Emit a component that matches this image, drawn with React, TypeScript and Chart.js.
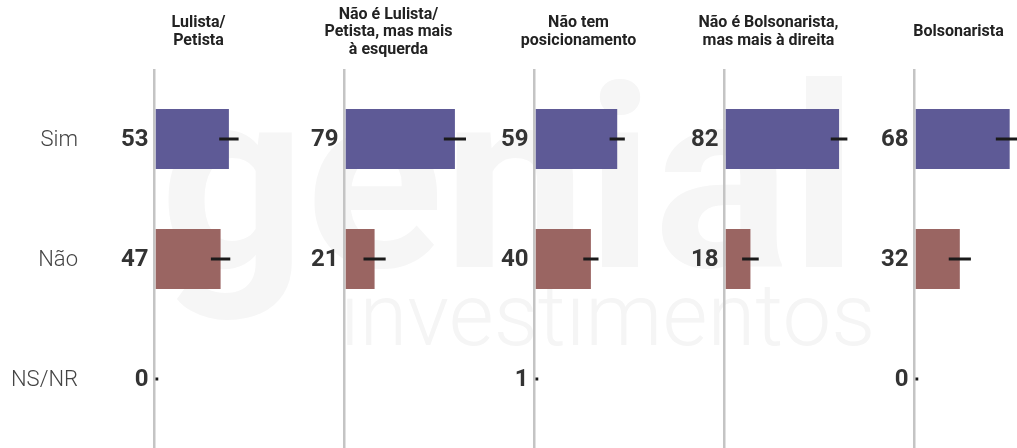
import React, { useEffect, useRef } from "react";
import { Chart, registerables } from "chart.js";

Chart.register(...registerables);

const categories = ["Sim", "Não", "NS/NR"];
const groupTitles = [
  ["Lulista/", "Petista"],
  ["Não é Lulista/", "Petista, mas mais", "à esquerda"],
  ["Não tem", "posicionamento"],
  ["Não é Bolsonarista,", "mas mais à direita"],
  ["Bolsonarista"],
];
const simValues = [53, 79, 59, 82, 68];
const naoValues = [47, 21, 40, 18, 32];
const nsnrValues: (number | null)[] = [0, null, 1, null, 0];
const simErrors = [7, 8, 5.5, 6, 10];
const naoErrors = [7, 8, 5.5, 6, 8];
const nsnrErrors: (number | null)[] = [2, null, 1, null, 2];
const xMax = 100;

const barColors = ["#5e5a96", "#9a6562", "rgba(0,0,0,0)"];
const FONT = "Roboto, 'Noto Sans', sans-serif";

function Panel({ index }: { index: number }) {
  const ref = useRef<HTMLCanvasElement>(null);
  useEffect(() => {
    const canvas = ref.current!;
    const vals = [simValues[index], naoValues[index], nsnrValues[index]];
    const errs = [simErrors[index], naoErrors[index], nsnrErrors[index]];
    const titleLines = groupTitles[index];

    const decor = {
      id: "decor",
      beforeDatasetsDraw(chart: any) {
        const { ctx, chartArea } = chart;
        ctx.save();
        ctx.strokeStyle = "#c4c4c4";
        ctx.lineWidth = 2.5;
        ctx.beginPath();
        const x = chartArea.left - 1.25;
        ctx.moveTo(x, 69);
        ctx.lineTo(x, chart.height);
        ctx.stroke();
        ctx.restore();
      },
      afterDatasetsDraw(chart: any) {
        const { ctx, chartArea } = chart;
        const xs = chart.scales.x;
        const ys = chart.scales.y;
        const meta = chart.getDatasetMeta(0);
        ctx.save();
        if (index === 0) {
          ctx.fillStyle = "#444444";
          ctx.font = `300 22px ${FONT}`;
          ctx.textAlign = "right";
          ctx.textBaseline = "middle";
          categories.forEach((c, i) => {
            ctx.fillText(c, 78, ys.getPixelForValue(i) + 1);
          });
        }
        meta.data.forEach((bar: any, i: number) => {
          const v = vals[i];
          const e = errs[i];
          if (v == null) return;
          const y = bar.y;
          if (e != null) {
            const x1 = xs.getPixelForValue(Math.max(0, v - e));
            const x2 = xs.getPixelForValue(v + e);
            ctx.strokeStyle = "#1a1a1a";
            ctx.lineWidth = 3;
            ctx.beginPath();
            ctx.moveTo(x1, y);
            ctx.lineTo(x2, y);
            ctx.stroke();
          }
          ctx.fillStyle = "#333333";
          ctx.font = `bold 24px ${FONT}`;
          ctx.textAlign = "right";
          ctx.textBaseline = "middle";
          ctx.fillText(String(v), chartArea.left - 7, y + 1);
        });
        ctx.fillStyle = "#222222";
        ctx.font = `bold 16px ${FONT}`;
        ctx.textAlign = "center";
        ctx.textBaseline = "middle";
        const cx = chartArea.left + 43;
        const n = titleLines.length;
        titleLines.forEach((line, j) => {
          ctx.fillText(line, cx, 32 + (j - (n - 1) / 2) * 17.5);
        });
        ctx.restore();
      },
    };

    const chart = new Chart(canvas, {
      type: "bar",
      data: {
        labels: categories,
        datasets: [
          {
            data: vals as any,
            backgroundColor: barColors,
            categoryPercentage: 1,
            barPercentage: 0.5,
          },
        ],
      },
      options: {
        indexAxis: "y",
        responsive: false,
        animation: false,
        events: [],
        layout: { padding: { left: 155.5, right: 6, top: 79, bottom: 9 } },
        plugins: {
          legend: { display: false },
          tooltip: { enabled: false },
          title: { display: false },
        },
        scales: {
          x: { display: false, min: 0, max: xMax },
          y: { display: false },
        },
      },
      plugins: [decor],
    });
    return () => chart.destroy();
  }, [index]);
  return (
    <canvas
      ref={ref}
      width={300}
      height={448}
      style={{ position: "absolute", left: index * 190, top: 0 }}
    />
  );
}

export default function App() {
  return (
    <div
      style={{
        position: "absolute",
        left: 0,
        top: 0,
        width: 1017,
        height: 448,
        overflow: "hidden",
        background: "#ffffff",
      }}
    >
      <div
        style={{
          position: "absolute",
          left: 160,
          top: 52,
          fontFamily: FONT,
          fontWeight: 700,
          fontSize: 255,
          lineHeight: "255px",
          color: "#f6f6f6",
          whiteSpace: "nowrap",
          userSelect: "none",
        }}
      >
        genial
      </div>
      <div
        style={{
          position: "absolute",
          left: 340,
          top: 272,
          fontFamily: FONT,
          fontWeight: 300,
          fontSize: 87,
          lineHeight: "87px",
          color: "#f5f5f5",
          whiteSpace: "nowrap",
          userSelect: "none",
        }}
      >
        investimentos
      </div>
      {groupTitles.map((_, i) => (
        <Panel key={i} index={i} />
      ))}
    </div>
  );
}
